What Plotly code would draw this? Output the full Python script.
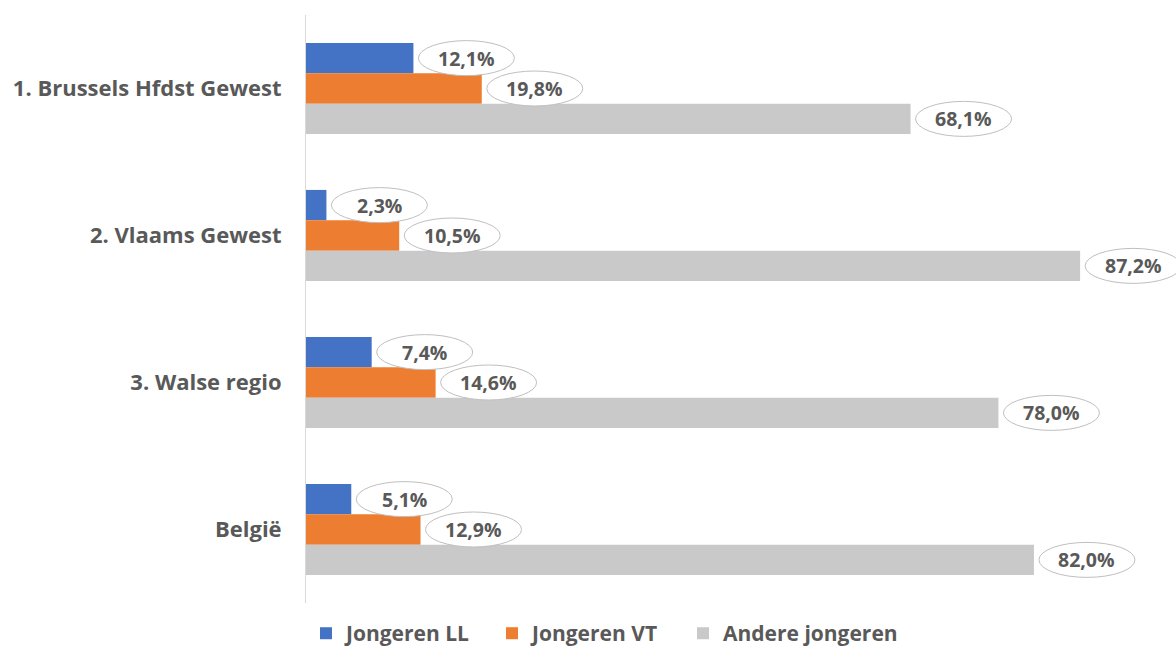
import plotly.graph_objects as go

categories = ["1. Brussels Hfdst Gewest", "2. Vlaams Gewest", "3. Walse regio", "België"]
series_names = ["Jongeren LL", "Jongeren VT", "Andere jongeren"]
ll = [12.1, 2.3, 7.4, 5.1]
vt = [19.8, 10.5, 14.6, 12.9]
andere = [68.1, 87.2, 78.0, 82.0]
colors = ["#4472C4", "#ED7D31", "#C9C9C9"]

series = [ll, vt, andere]
bargap = 0.38
w = 1 - bargap
font_family = "Open Sans, Noto Sans, sans-serif"
txt_color = "#595959"
legend_ids = ["legend", "legend2", "legend3"]
legend_px = [306, 492, 683]

fig = go.Figure()
for name, vals, col, lid in zip(series_names, series, colors, legend_ids):
    fig.add_trace(go.Bar(y=categories, x=vals, name=name, orientation="h", legend=lid,
                         marker=dict(color=col, line=dict(width=0))))

shapes = []
annotations = []
for k, vals in enumerate(series):
    off = -w / 2 + w / 3 * (k + 0.5)
    for i, v in enumerate(vals):
        yc = i + off
        shapes.append(dict(type="circle", xref="x", yref="y", xsizemode="pixel", ysizemode="pixel",
                           xanchor=v, yanchor=yc, x0=5, x1=101, y0=-17.5, y1=17.5,
                           line=dict(color="#BFBFBF", width=1), fillcolor="white", layer="above"))
        annotations.append(dict(x=v, y=yc, xref="x", yref="y", xshift=53, showarrow=False,
                                text="<b>" + f"{v:.1f}".replace(".", ",") + "%</b>",
                                font=dict(family=font_family, size=19.5, color=txt_color),
                                xanchor="center", yanchor="middle"))

legend_layout = {}
for lid, px in zip(legend_ids, legend_px):
    legend_layout[lid] = dict(orientation="h", x=(px - 306) / 870, xanchor="left", y=-0.052,
                              yanchor="middle", bgcolor="rgba(0,0,0,0)",
                              font=dict(family=font_family, size=21, color=txt_color, weight="bold"),
                              itemsizing="constant", itemwidth=30)

fig.update_layout(
    width=1176, height=648,
    margin=dict(l=306, r=0, t=15, b=45, autoexpand=False),
    barmode="group", bargap=bargap, bargroupgap=0,
    plot_bgcolor="white", paper_bgcolor="white",
    showlegend=True,
    shapes=shapes, annotations=annotations,
    xaxis=dict(range=[0, 98], showgrid=False, zeroline=False, showticklabels=False, showline=False),
    yaxis=dict(autorange="reversed", showline=True, linecolor="#D9D9D9", linewidth=1,
               ticks="", ticklabelstandoff=19,
               tickfont=dict(family=font_family, size=22, color=txt_color, weight="bold")),
    **legend_layout,
)
fig.write_html("out.html", config={"displayModeBar": False},
               post_script="document.body.style.margin='0px';")
